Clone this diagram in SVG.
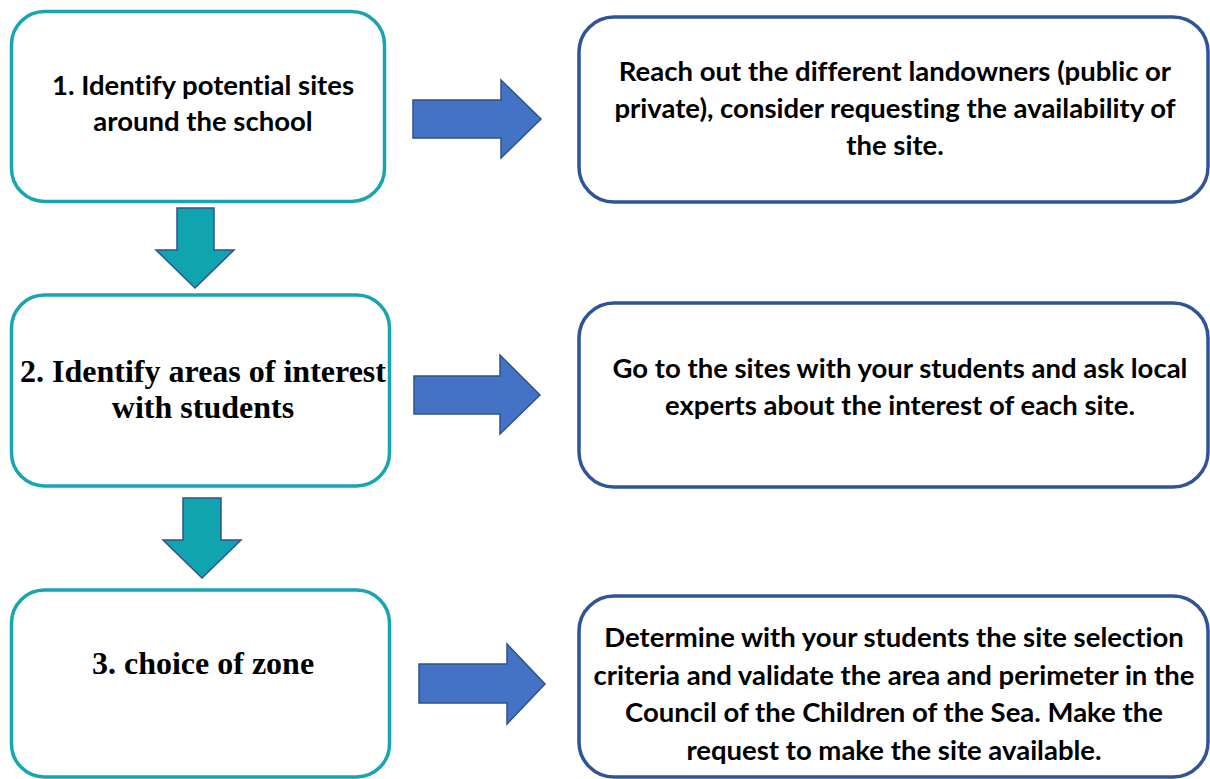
<svg xmlns="http://www.w3.org/2000/svg" width="1210" height="779" viewBox="0 0 1210 779">
<style>
.step{fill:#fff;stroke:#17A5B1;stroke-width:3.5}
.act{fill:#fff;stroke:#2F5597;stroke-width:3.5}
.cal{font-family:Lato,"Liberation Sans",sans-serif;font-weight:bold;font-size:27.5px;fill:#000;text-anchor:middle;font-variant-ligatures:none}
.tms{font-family:"Liberation Serif","Times New Roman",serif;font-weight:bold;font-size:32px;fill:#000;text-anchor:middle}
.rarr{fill:#4472C4;stroke:#2F528F;stroke-width:1.5}
.darr{fill:#10A5AE;stroke:#2F528F;stroke-width:1.5}
</style>
<rect width="1210" height="779" fill="#fff"/>
<g id="connectors">
<polygon class="rarr" points="413,100 501,100 501,80 541,119 501,158 501,138 413,138"/>
<polygon class="rarr" points="414,376 500,376 500,355 540,395 500,434 500,414 414,414"/>
<polygon class="rarr" points="419,664 507,664 507,644 545,684 507,724 507,703 419,703"/>
<polygon class="darr" points="177,208 214,208 214,250 234,250 195,288 156,250 177,250"/>
<polygon class="darr" points="183,498 221,498 221,540 241,540 202,578 163,540 183,540"/>
</g>
<g id="step1">
<rect class="step" x="11.5" y="11.5" width="373" height="190" rx="33"/>
<text class="cal" x="203" y="95">1. Identify potential sites</text>
<text class="cal" x="203" y="131">around the school</text>
</g>
<g id="step2">
<rect class="step" x="11.5" y="295" width="378" height="191" rx="33"/>
<text class="tms" x="203" y="382">2. Identify areas of interest</text>
<text class="tms" x="203" y="418">with students</text>
</g>
<g id="step3">
<rect class="step" x="11.5" y="590" width="378" height="187" rx="33"/>
<text class="tms" x="203" y="674">3. choice of zone</text>
</g>
<g id="action1">
<rect class="act" x="579" y="17" width="629" height="185" rx="35"/>
<text class="cal" x="895" y="81">Reach out the different landowners (public or</text>
<text class="cal" x="895" y="118">private), consider requesting the availability of</text>
<text class="cal" x="895" y="155">the site.</text>
</g>
<g id="action2">
<rect class="act" x="579" y="303" width="629" height="184" rx="35"/>
<text class="cal" x="900" y="378">Go to the sites with your students and ask local</text>
<text class="cal" x="900" y="415">experts about the interest of each site.</text>
</g>
<g id="action3">
<rect class="act" x="579" y="596" width="629" height="181" rx="35"/>
<text class="cal" x="894" y="647">Determine with your students the site selection</text>
<text class="cal" x="894" y="685">criteria and validate the area and perimeter in the</text>
<text class="cal" x="894" y="722">Council of the Children of the Sea. Make the</text>
<text class="cal" x="894" y="760">request to make the site available.</text>
</g>
</svg>
